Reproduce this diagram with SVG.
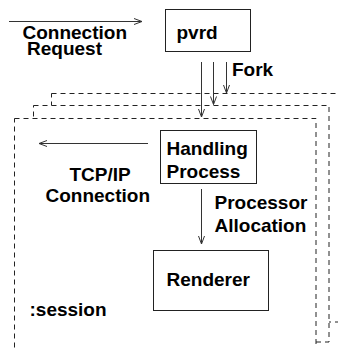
<svg xmlns="http://www.w3.org/2000/svg" width="338" height="348" viewBox="0 0 338 348">
<style>
text{font-family:"Liberation Sans",Arial,Helvetica,sans-serif;font-weight:bold;font-size:19px;fill:#000}
.box{fill:#fff;stroke:#222;stroke-width:1}
.dash{fill:#fff;stroke:#222;stroke-width:1;stroke-dasharray:5,4}
.ln{fill:none;stroke:#333;stroke-width:1;marker-end:url(#ah)}
</style>
<defs>
<marker id="ah" markerUnits="userSpaceOnUse" markerWidth="12" markerHeight="10" refX="9" refY="4" orient="auto">
<path d="M1,1 L9,4 L1,7" fill="none" stroke="#333" stroke-width="1"/>
</marker>
</defs>
<g id="session-stack">
<rect class="dash" x="51.5" y="93.5" width="300" height="228.5"/>
<rect class="dash" x="33.5" y="105.5" width="295.5" height="236.5"/>
<rect class="dash" x="14.5" y="118.5" width="301.5" height="245"/>
</g>
<g id="pvrd">
<rect class="box" x="165.5" y="9.5" width="85" height="42"/>
<text x="176.5" y="38.5">pvrd</text>
</g>
<g id="handling">
<rect class="box" x="160.5" y="130.5" width="96" height="53"/>
<text x="166.5" y="154.5">Handling</text>
<text x="166.5" y="177.5">Process</text>
</g>
<g id="renderer">
<rect class="box" x="153.5" y="250.5" width="115" height="60"/>
<text x="166.5" y="285.5">Renderer</text>
</g>
<g id="connectors">
<line class="ln" x1="9" y1="21.5" x2="142" y2="21.5"/>
<line class="ln" x1="201.5" y1="62" x2="201.5" y2="117"/>
<line class="ln" x1="213.5" y1="62" x2="213.5" y2="104.5"/>
<line class="ln" x1="226.5" y1="62" x2="226.5" y2="93"/>
<line class="ln" x1="148" y1="143.5" x2="39" y2="143.5"/>
<line class="ln" x1="201.5" y1="189" x2="201.5" y2="244"/>
</g>
<g id="labels">
<text x="22.5" y="38.5">Connection</text>
<text x="27" y="54.5">Request</text>
<text x="232" y="76">Fork</text>
<text x="69.5" y="180.5">TCP/IP</text>
<text x="45.5" y="202">Connection</text>
<text x="214.5" y="208.5">Processor</text>
<text x="214.5" y="231.5">Allocation</text>
<text x="29.5" y="315.5">:session</text>
</g>
</svg>
